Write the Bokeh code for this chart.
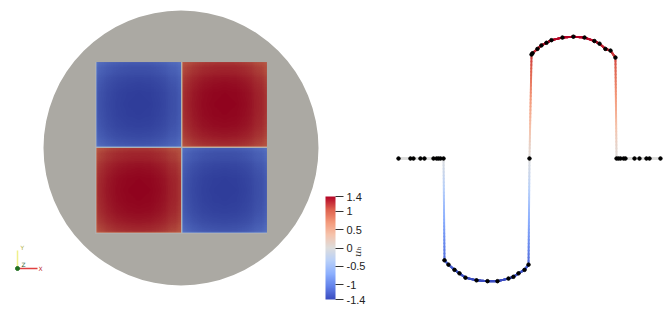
import numpy as np
from bokeh.plotting import figure
from bokeh.models import Range1d, LinearColorMapper, ColorBar, FixedTicker, Label, ColumnDataSource
from bokeh.layouts import row
from bokeh.transform import linear_cmap
from bokeh.embed import file_html
from bokeh.resources import INLINE

# ---------------- data ----------------
u_min, u_max = -1.4, 1.4
colorbar_ticks = [-1.4, -1, -0.5, 0, 0.5, 1, 1.4]
colorbar_labels = {-1.4: "-1.4", -1: "-1", -0.5: "-0.5", 0: "0", 0.5: "0.5", 1: "1", 1.4: "1.4"}
colorbar_title = "uₕ"

# sign of the field in the four squares (top row, bottom row; left -> right)
square_signs = [[-1, 1], [1, -1]]
square_half = 0.625

# values sampled along a horizontal line through the top squares
line_x = [-0.954, -0.867, -0.845, -0.794, -0.765, -0.699, -0.677, -0.663, -0.648, -0.626,
          -0.619, -0.590, -0.546, -0.510, -0.466, -0.386, -0.306, -0.233, -0.153, -0.117, -0.080, -0.036, -0.007,
          0.000,
          0.015, 0.022, 0.058, 0.087, 0.124, 0.160, 0.240, 0.320, 0.401, 0.473, 0.510, 0.553, 0.590, 0.626,
          0.634, 0.648, 0.663, 0.685, 0.699, 0.765, 0.801, 0.852, 0.874, 0.954]
line_u = [0, 0, 0, 0, 0, 0, 0, 0, 0, 0,
          -1.17, -1.22, -1.28, -1.32, -1.37, -1.40, -1.41, -1.41, -1.38, -1.36, -1.32, -1.28, -1.22,
          0,
          1.195, 1.21, 1.26, 1.30, 1.33, 1.36, 1.39, 1.40, 1.39, 1.35, 1.32, 1.26, 1.24, 1.16,
          0, 0, 0, 0, 0, 0, 0, 0, 0, 0]

# profile across one square (the red arc above, between its two zero nodes)
square_profile_x = [0.000, 0.015, 0.022, 0.058, 0.087, 0.124, 0.160, 0.240, 0.320, 0.401,
                    0.473, 0.510, 0.553, 0.590, 0.626, 0.634]
square_profile_u = [0, 1.195, 1.21, 1.26, 1.30, 1.33, 1.36, 1.39, 1.40, 1.39,
                    1.35, 1.32, 1.26, 1.24, 1.16, 0]

# ---------------- colours ----------------
cw_points = [(59, 76, 192), (98, 130, 234), (141, 176, 254), (184, 208, 249), (221, 221, 221),
             (245, 196, 173), (244, 154, 123), (222, 96, 77), (180, 4, 38)]


def make_palette(points, n=256, k=1.0):
    pts = np.array(points, dtype=float)
    t = np.linspace(0, 1, len(pts))
    tt = np.linspace(0, 1, n)
    out = []
    for v in tt:
        c = [np.interp(v, t, pts[:, j]) * k for j in range(3)]
        out.append("#%02x%02x%02x" % tuple(int(round(min(255, x))) for x in c))
    return out


palette = make_palette(cw_points)
shaded_palette = make_palette(cw_points, k=0.8)

# ---------------- left panel ----------------
S = 137.5                 # px per unit
CX, CY = 180.5, 147.5     # disk centre on page
L_W, H = 390, 315


def px_to_data(px, py):
    return (px - CX) / S, (CY - py) / S


x0, y0 = px_to_data(0, H)
x1, y1 = px_to_data(L_W, 0)
left = figure(width=L_W, height=H, output_backend="svg", toolbar_location=None,
              x_range=Range1d(x0, x1), y_range=Range1d(y0, y1),
              min_border=0, outline_line_color=None)
left.axis.visible = False
left.grid.visible = False

left.circle(x=[0], y=[0], radius=1.0, fill_color="#aba9a3", line_color=None)

img_mapper = LinearColorMapper(palette=shaded_palette, low=u_min, high=u_max)
px_, pu_ = np.array(square_profile_x), np.array(square_profile_u)
fine = np.linspace(px_[0], px_[-1], 121)           # render-resolution sampling of the profile
pf = np.interp(fine, px_, pu_)
base = np.outer(pf, pf) / pu_.max()
for r, srow in enumerate(square_signs):
    for c, sgn in enumerate(srow):
        xa = -square_half if c == 0 else 0.0
        ya = 0.0 if r == 0 else -square_half
        left.image(image=[sgn * base], x=xa, y=ya, dw=square_half, dh=square_half,
                   color_mapper=img_mapper)

cb_mapper = LinearColorMapper(palette=palette, low=u_min, high=u_max)
cb = ColorBar(color_mapper=cb_mapper, ticker=FixedTicker(ticks=colorbar_ticks),
              major_label_overrides=colorbar_labels, location=(325, H - 299), width=10, height=103,
              padding=0, margin=0, background_fill_alpha=0, border_line_color=None,
              bar_line_color=None, major_tick_out=8, major_tick_in=0,
              major_tick_line_color="#333333", minor_tick_line_color=None,
              label_standoff=3, major_label_text_font="Liberation Sans",
              major_label_text_font_size="11px", major_label_text_color="#222222")
left.add_layout(cb, "center")

left.add_layout(Label(x=357, y=H - 251, x_units="screen", y_units="screen", text=colorbar_title,
                      angle=np.pi / 2, text_align="center", text_baseline="middle",
                      text_font="DejaVu Serif", text_font_style="italic",
                      text_font_size="10px", text_color="#333333"))

# orientation triad
ox, oy = px_to_data(17, 268)
yx, yy = px_to_data(17, 250)
xx, xy = px_to_data(37, 268)
left.line([ox, yx], [oy, yy], line_color="#f0f08c", line_width=1.5)
left.line([ox, xx], [oy, xy], line_color="#e04040", line_width=1.5)
left.scatter([ox], [oy], size=4, color="#207020")
for t, sx, sy, col in [("Y", 20, H - 247, "#b0b040"), ("Z", 21, H - 264, "#306030"),
                       ("X", 38, H - 268, "#c03030")]:
    left.add_layout(Label(x=sx, y=sy, x_units="screen", y_units="screen", text=t,
                          text_font="DejaVu Sans", text_font_size="6px", text_color=col,
                          text_baseline="middle"))

# ---------------- right panel ----------------
R_W = 669 - L_W
XS = 137.3   # px per unit along the line
US = 87.0    # px per unit of u
X_PAGE0 = 398
r_x0 = line_x[0] - (X_PAGE0 - L_W) / XS
r_x1 = r_x0 + R_W / XS
ZERO_PAGE_Y = 158
r_y1 = ZERO_PAGE_Y / US
r_y0 = r_y1 - H / US

right = figure(width=R_W, height=H, output_backend="svg", toolbar_location=None,
               x_range=Range1d(r_x0, r_x1), y_range=Range1d(r_y0, r_y1),
               min_border=0, outline_line_color=None)
right.axis.visible = False
right.grid.visible = False

seg = {"x0": [], "y0": [], "x1": [], "y1": [], "u": []}
for i in range(len(line_x) - 1):
    n = 30
    xs = np.linspace(line_x[i], line_x[i + 1], n + 1)
    us = np.linspace(line_u[i], line_u[i + 1], n + 1)
    for j in range(n):
        seg["x0"].append(xs[j]); seg["x1"].append(xs[j + 1])
        seg["y0"].append(us[j]); seg["y1"].append(us[j + 1])
        seg["u"].append(0.5 * (us[j] + us[j + 1]))
right.segment("x0", "y0", "x1", "y1", source=ColumnDataSource(seg), line_width=2,
              line_cap="round", line_color=linear_cmap("u", palette, u_min, u_max))
right.scatter(line_x, line_u, size=3.5, color="black")

layout = row(left, right)
open("out.html", "w").write(file_html(layout, INLINE))
